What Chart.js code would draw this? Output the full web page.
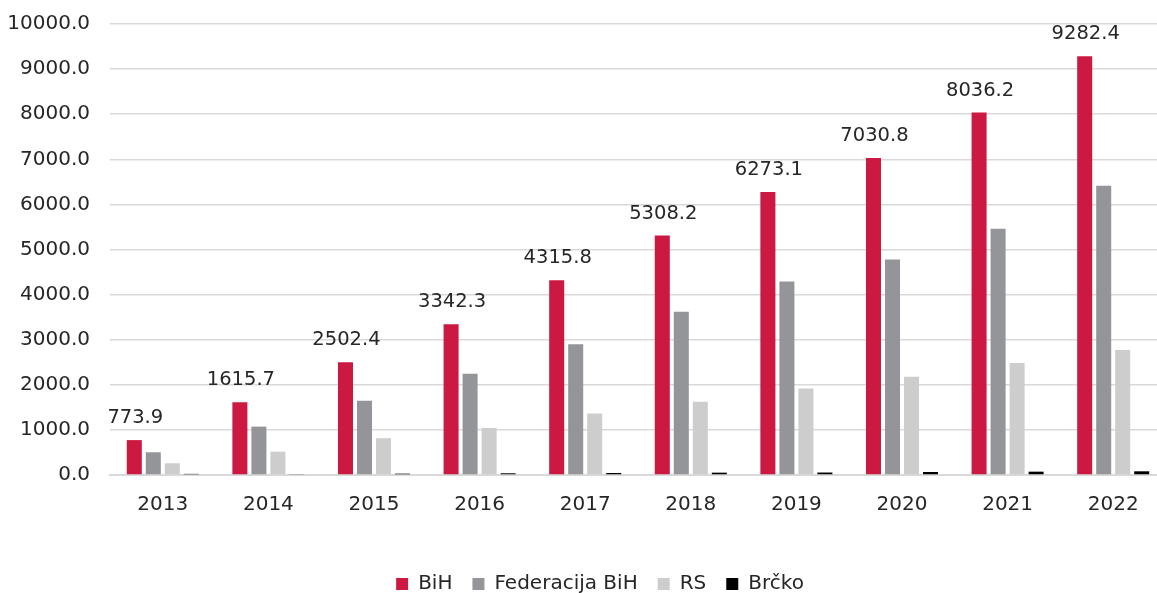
<!DOCTYPE html>
<html>
<head>
<meta charset="utf-8">
<script src="https://cdn.jsdelivr.net/npm/chart.js@4"></script>
<style>
html,body{margin:0;padding:0;background:#fff;overflow:hidden;}
#wrap{position:absolute;left:0;top:0;width:1166px;height:604px;}
</style>
</head>
<body>
<div id="wrap"><canvas id="c" width="1166" height="604"></canvas></div>
<script>
const years = ['2013','2014','2015','2016','2017','2018','2019','2020','2021','2022'];
const bih = [773.9,1615.7,2502.4,3342.3,4315.8,5308.2,6273.1,7030.8,8036.2,9282.4];
const federacija = [504,1073,1644,2244,2900,3622,4289,4778,5459,6415];
const rs = [260,518,815,1044,1363,1622,1918,2178,2482,2770];
const brcko = [25,20,30,38,44,52,55,66,74,82];
const yTicks = [0,1000,2000,3000,4000,5000,6000,7000,8000,9000,10000];

const FONT = 'DejaVu Sans';
const TXT = '#262626';

const labelPlugin = {
  id: 'bihLabels',
  afterLayout(chart) {
    if (chart.legend) { chart.legend.left += 17; chart.legend.right += 17; }
  },
  afterDatasetsDraw(chart) {
    const ctx = chart.ctx;
    const meta = chart.getDatasetMeta(0);
    ctx.save();
    ctx.font = '19.5px "' + FONT + '"';
    ctx.fillStyle = TXT;
    ctx.textAlign = 'center';
    ctx.textBaseline = 'alphabetic';
    meta.data.forEach((bar, i) => {
      ctx.fillText(bih[i].toFixed(1), bar.x + 1, bar.y - 17);
    });
    ctx.restore();
  }
};

new Chart(document.getElementById('c'), {
  type: 'bar',
  data: {
    labels: years,
    datasets: [
      {label: 'BiH', data: bih, backgroundColor: '#CC1941'},
      {label: 'Federacija BiH', data: federacija, backgroundColor: '#939598'},
      {label: 'RS', data: rs, backgroundColor: '#CDCDCD'},
      {label: 'Brčko', data: brcko, backgroundColor: '#000000'}
    ]
  },
  options: {
    responsive: false,
    animation: false,
    devicePixelRatio: 1,
    layout: {padding: {top: 24, right: 0, left: 0, bottom: 0}},
    datasets: {bar: {categoryPercentage: 0.72, barPercentage: 0.79}},
    plugins: {
      legend: {
        position: 'bottom',
        labels: {
          boxWidth: 12, boxHeight: 12, padding: 20,
          color: TXT,
          font: {family: FONT, size: 20}
        }
      },
      tooltip: {enabled: false},
      title: {display: false}
    },
    scales: {
      x: {
        grid: {display: false, drawTicks: false},
        border: {display: true, color: '#d9d9d9', width: 2},
        ticks: {color: TXT, padding: 18, font: {family: FONT, size: 20}},
        afterFit(s) { s.height = 79; }
      },
      y: {
        min: 0, max: 10000,
        afterBuildTicks(s) { s.ticks = yTicks.map(v => ({value: v})); },
        grid: {color: '#d9d9d9', lineWidth: 1.5, drawTicks: false},
        border: {display: false},
        ticks: {
          color: TXT, padding: 20,
          font: {family: FONT, size: 20},
          callback: v => Number(v).toFixed(1)
        },
        afterFit(s) { s.width = 110; s.paddingTop = 0; }
      }
    }
  },
  plugins: [labelPlugin]
});
</script>
</body>
</html>
